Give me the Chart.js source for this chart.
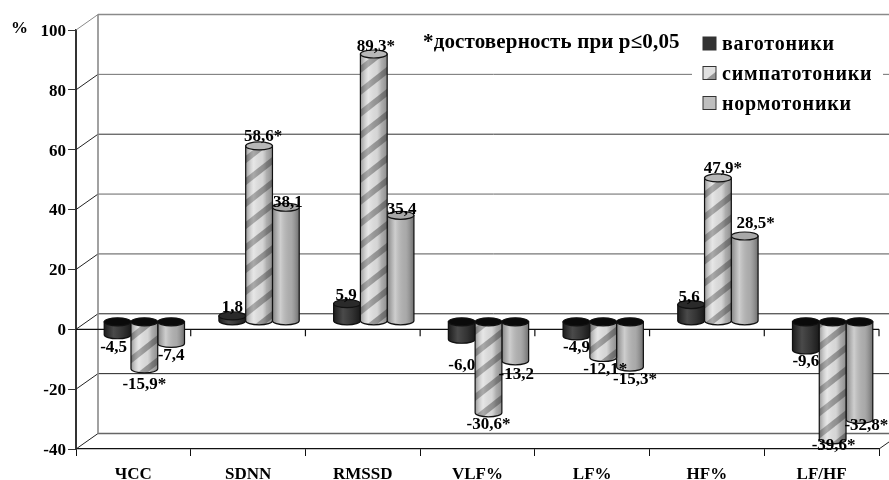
<!DOCTYPE html>
<html>
<head>
<meta charset="utf-8">
<style>
  html, body { margin: 0; padding: 0; background: #fff; }
  canvas { display: block; }
</style>
<script src="https://cdn.jsdelivr.net/npm/chart.js@4"></script>
</head>
<body>
<canvas id="hrvChart" width="889" height="480"></canvas>
<script>
const categories = ["ЧСС", "SDNN", "RMSSD", "VLF%", "LF%", "HF%", "LF/HF"];
const seriesNames = ["ваготоники", "симпатотоники", "нормотоники"];

const vagotonics = [-4.5, 1.8, 5.9, -6.0, -4.9, 5.6, -9.6];
const sympathotonics = [-15.9, 58.6, 89.3, -30.6, -12.1, 47.9, -39.6];
const normotonics = [-7.4, 38.1, 35.4, -13.2, -15.3, 28.5, -32.8];

// which values carry the significance star
const vagotonicsStars = [false, false, false, false, false, false, false];
const sympathotonicsStars = [true, true, true, true, true, true, true];
const normotonicsStars = [false, false, false, false, true, true, true];

const yTicks = [100, 80, 60, 40, 20, 0, -20, -40];
const noteText = "*достоверность при p≤0,05";

// label nudges from the end of the bar, px
const labelNudge = [
    [[-4, 10], [0, -11], [-1, -11], [0, 23], [0, 9], [-2, -10], [0, 9]],
    [[0, 13], [4, -12], [2, -10], [0, 9], [2, 9], [5, -12], [1, 3]],
    [[0, 9], [2, -8], [1, -9], [1, 11], [5, 10], [11, -15], [7, 3]]
];

const serif = "'Liberation Serif', 'Times New Roman', serif";
const depth = { x: 22, y: -15.5 };   // back wall offset
const mid = { x: 11, y: -8 };        // bars stand in the middle of the floor
const capHeight = 4;

function makeStripes() {
    const tile = document.createElement("canvas");
    tile.width = 28;
    tile.height = 22;
    const c = tile.getContext("2d");
    c.fillStyle = "#e0e0e0";
    c.fillRect(0, 0, 28, 22);
    c.strokeStyle = "#949494";
    c.lineWidth = 6;
    [-28, 0, 28].forEach(off => {
        c.beginPath();
        c.moveTo(off - 7, 27.5);
        c.lineTo(off + 35, -5.5);
        c.stroke();
    });
    return tile;
}

const ctxMain = document.getElementById("hrvChart").getContext("2d");
const stripes = ctxMain.createPattern(makeStripes(), "repeat");

const looks = [
    { fill: "#333333", cap: "#2a2a2a", swatch: "#333333", stops: [[0, "#1c1c1c"], [0.35, "#4a4a4a"], [0.7, "#333333"], [1, "#1a1a1a"]] },
    { fill: stripes, cap: "#b8b8b8", swatch: stripes, stops: [[0, "rgba(40,40,40,0.4)"], [0.3, "rgba(255,255,255,0.2)"], [0.62, "rgba(120,120,120,0.1)"], [0.78, "rgba(60,60,60,0.3)"], [1, "rgba(40,40,40,0.45)"]] },
    { fill: "#b4b4b4", cap: "#a8a8a8", swatch: "#bfbfbf", stops: [[0, "rgba(60,60,60,0.4)"], [0.3, "rgba(255,255,255,0.35)"], [0.7, "rgba(110,110,110,0.15)"], [1, "rgba(40,40,40,0.5)"]] }
];

function bodyPath(c, x0, x1, top, bottom) {
    const cx = (x0 + x1) / 2;
    const rx = (x1 - x0) / 2;
    c.beginPath();
    c.moveTo(x0, top);
    c.lineTo(x0, bottom);
    c.ellipse(cx, bottom, rx, capHeight, 0, Math.PI, 0, true);
    c.lineTo(x1, top);
    c.closePath();
}

function drawCylinder(c, el, look) {
    const x0 = el.x - el.width / 2;
    const x1 = el.x + el.width / 2;
    const top = Math.min(el.y, el.base);
    const bottom = Math.max(el.y, el.base);
    const isDown = el.y > el.base;

    bodyPath(c, x0, x1, top, bottom);
    c.fillStyle = look.fill;
    c.fill();
    const shade = c.createLinearGradient(x0, 0, x1, 0);
    look.stops.forEach(s => shade.addColorStop(s[0], s[1]));
    c.fillStyle = shade;
    c.fill();
    c.strokeStyle = "#111";
    c.lineWidth = 1.2;
    c.stroke();

    c.beginPath();
    c.ellipse((x0 + x1) / 2, top, (x1 - x0) / 2, capHeight, 0, 0, Math.PI * 2);
    c.fillStyle = isDown ? "#0a0a0a" : look.cap;
    c.fill();
    c.stroke();
}

function formatValue(v, star) {
    return v.toFixed(1).replace(".", ",") + (star ? "*" : "");
}

const wallColors = { "100": "#8a8a8a", "80": "#707070", "60": "#333", "40": "#666", "20": "#555", "0": "#222", "-20": "#222", "-40": "#666" };

const wallPlugin = {
    id: "wall",
    beforeDatasetsDraw(chart) {
        const c = chart.ctx;
        const y = chart.scales.y;
        const area = chart.chartArea;
        c.save();
        yTicks.forEach(t => {
            const py = y.getPixelForValue(t);
            c.strokeStyle = wallColors[t];
            c.lineWidth = (t === -40 || t === 100) ? 1.6 : 1;
            c.beginPath();
            c.moveTo(area.left + depth.x, py + depth.y);
            c.lineTo(chart.width, py + depth.y);
            c.stroke();
            c.strokeStyle = t === 100 ? "#8a8a8a" : "#222";
            c.lineWidth = 1;
            c.beginPath();
            c.moveTo(area.left, py);
            c.lineTo(area.left + depth.x, py + depth.y);
            c.stroke();
        });
        // back wall left edge
        c.strokeStyle = "#8a8a8a";
        c.lineWidth = 1.6;
        c.beginPath();
        c.moveTo(area.left + depth.x, y.getPixelForValue(100) + depth.y);
        c.lineTo(area.left + depth.x, y.getPixelForValue(-40) + depth.y);
        c.stroke();
        // floor edge on the right
        c.strokeStyle = "#222";
        c.lineWidth = 1;
        c.beginPath();
        c.moveTo(area.right, area.bottom);
        c.lineTo(area.right + depth.x, area.bottom + depth.y);
        c.stroke();
        // zero line with its own ticks
        const zero = y.getPixelForValue(0);
        c.strokeStyle = "#111";
        c.lineWidth = 1.2;
        c.beginPath();
        c.moveTo(area.left, zero);
        c.lineTo(area.right, zero);
        const step = (area.right - area.left) / categories.length;
        for (let i = 1; i <= categories.length; i++) {
            c.moveTo(area.left + step * i, zero);
            c.lineTo(area.left + step * i, zero + 7);
        }
        c.stroke();
        // white box under the legend
        c.fillStyle = "#fff";
        c.fillRect(692, 30, 191, 92);
        c.restore();

        // bars go up and back into the box
        c.save();
        c.translate(mid.x, mid.y);
        [0, 2, 1].forEach(i => {
            chart.getDatasetMeta(i).data.forEach(el => drawCylinder(c, el, looks[i]));
        });
        c.restore();
    },
    beforeDatasetDraw() {
        return false;   // cylinders are drawn above
    },
    afterDatasetsDraw(chart) {
        const c = chart.ctx;
        c.save();
        c.fillStyle = "#000";
        c.textBaseline = "middle";
        c.textAlign = "center";
        c.font = "bold 17px " + serif;
        chart.data.datasets.forEach((ds, i) => {
            chart.getDatasetMeta(i).data.forEach((el, j) => {
                const n = labelNudge[i][j];
                c.fillText(formatValue(ds.data[j], ds.stars[j]), el.x + mid.x + n[0], el.y + mid.y + n[1] + 3);
            });
        });

        c.textAlign = "left";
        c.fillText("%", 11, 29);
        c.font = "bold 21px " + serif;
        c.letterSpacing = "0.15px";
        c.fillText(noteText, 423, 43);

        const rowY = [43, 72.5, 102.5];
        c.font = "bold 20px " + serif;
        c.letterSpacing = "0.8px";
        seriesNames.forEach((name, i) => {
            c.fillStyle = looks[i].swatch;
            c.fillRect(703, rowY[i] - 6, 13, 13);
            c.strokeStyle = "#333";
            c.lineWidth = 1;
            c.strokeRect(703, rowY[i] - 6, 13, 13);
            c.fillStyle = "#000";
            c.fillText(name, 722, rowY[i] + 2);
        });
        c.restore();
    }
};

new Chart(ctxMain, {
    type: "bar",
    data: {
        labels: categories,
        datasets: [
            { label: seriesNames[0], data: vagotonics, stars: vagotonicsStars, backgroundColor: "#333333" },
            { label: seriesNames[1], data: sympathotonics, stars: sympathotonicsStars, backgroundColor: "#cccccc" },
            { label: seriesNames[2], data: normotonics, stars: normotonicsStars, backgroundColor: "#b4b4b4" }
        ]
    },
    plugins: [wallPlugin],
    options: {
        responsive: false,
        animation: false,
        categoryPercentage: 0.7,
        barPercentage: 1,
        layout: { padding: { top: 30, right: 10, bottom: 0, left: 0 } },
        plugins: { legend: { display: false }, title: { display: false }, tooltip: { enabled: false } },
        scales: {
            x: {
                afterFit: scale => { scale.height = 31; },
                border: { display: true, color: "#111", width: 1.2 },
                grid: { drawOnChartArea: false, drawTicks: true, tickLength: 7, color: "#111" },
                ticks: { color: "#000", padding: 8, maxRotation: 0, font: { family: serif, weight: "bold", size: 17 } }
            },
            y: {
                min: -40,
                max: 100,
                afterFit: scale => { scale.width = 76; },
                border: { display: true, color: "#333", width: 2 },
                grid: { drawOnChartArea: false, drawTicks: true, tickLength: 8, color: "#333" },
                ticks: { stepSize: 20, color: "#000", padding: 2, labelOffset: 1.5, font: { family: serif, weight: "bold", size: 17 } }
            }
        }
    }
});
</script>
</body>
</html>
